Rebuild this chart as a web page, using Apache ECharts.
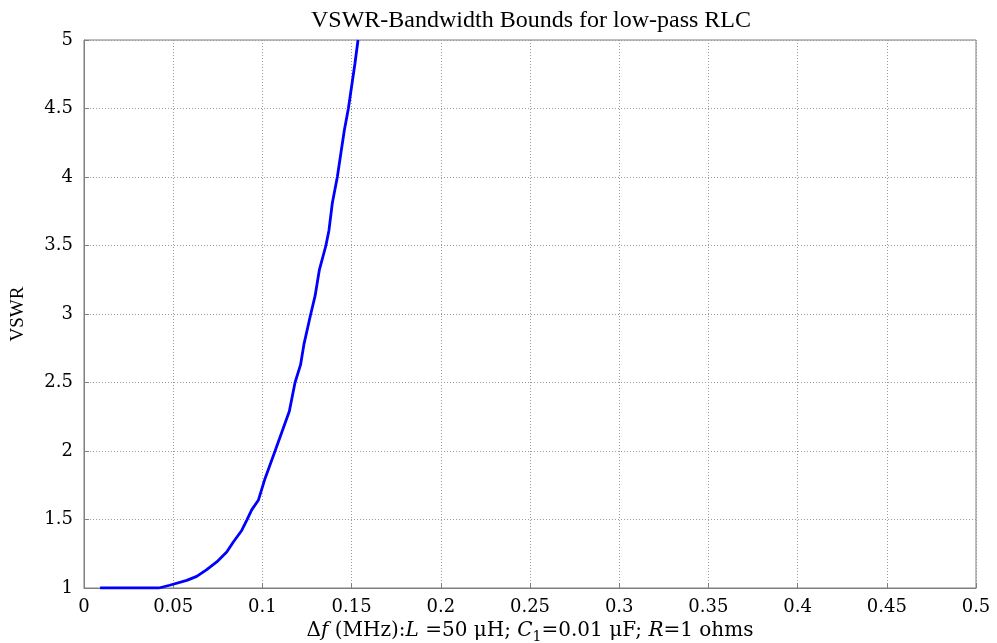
<!DOCTYPE html>
<html>
<head>
<meta charset="utf-8">
<title>VSWR-Bandwidth Bounds</title>
<script src="https://cdn.jsdelivr.net/npm/echarts@6/dist/echarts.min.js"></script>
<style>
  html, body { margin: 0; padding: 0; background: #fff; }
  #chart01 { width: 997px; height: 643px; }
</style>
</head>
<body>
<div id="chart01"></div>
<script>
// frequency offset (MHz) and VSWR bound
var deltaF = [0.009, 0.042, 0.048, 0.0576, 0.0632, 0.0688, 0.0744, 0.080, 0.0837, 0.0884,
              0.0912, 0.094, 0.0977, 0.1015, 0.1071, 0.1151, 0.1183, 0.1214, 0.1233, 0.1271,
              0.1295, 0.1319, 0.1356, 0.1373, 0.1392, 0.142, 0.1459, 0.1482, 0.1519, 0.1536];
var vswr = [1.0, 1.0, 1.02, 1.056, 1.085, 1.134, 1.19, 1.263, 1.336, 1.42,
            1.494, 1.57, 1.64, 1.80, 2.0, 2.29, 2.5, 2.63, 2.78, 3.0,
            3.13, 3.32, 3.5, 3.61, 3.81, 4.0, 4.34, 4.5, 4.83, 5.0];

var xTicks = [0, 0.05, 0.1, 0.15, 0.2, 0.25, 0.3, 0.35, 0.4, 0.45, 0.5];
var yTicks = [1, 1.5, 2, 2.5, 3, 3.5, 4, 4.5, 5];

var serif = 'Liberation Serif';
var wide = 'DejaVu Serif';

var pts = deltaF.map(function (x, i) { return [x, vswr[i]]; });

var myChart = echarts.init(document.getElementById('chart01'));

var option = {
        backgroundColor: '#fff',
        animation: false,
        title: {
                text: 'VSWR-Bandwidth Bounds for low-pass RLC',
                left: 526,
                textAlign: 'center',
                top: 4,
                textStyle: { fontFamily: serif, fontSize: 24, fontWeight: 'normal', color: '#000' }
        },
        grid: {
                left: 84, right: 21, top: 40, bottom: 55,
                containLabel: false,
                outerBoundsMode: 'none',
                show: true, borderColor: '#7f7f7f', borderWidth: 1, backgroundColor: '#fff'
        },
        xAxis: {
                type: 'value',
                min: xTicks[0], max: xTicks[xTicks.length - 1], interval: 0.05,
                name: '{d|Δ}{i|f}{n| (MHz):}{i|L}{n| =50 μH; }{i|C}{s|1}{n|=0.01 μF; }{i|R}{n|=1 ohms}',
                nameLocation: 'middle',
                nameGap: 30,
                nameTextStyle: {
                        color: '#000',
                        rich: {
                                d: { fontFamily: wide, fontSize: 20, color: '#000' },
                                n: { fontFamily: wide, fontSize: 20, color: '#000' },
                                i: { fontFamily: wide, fontSize: 20, fontStyle: 'italic', color: '#000' },
                                s: { fontFamily: wide, fontSize: 14, color: '#000', padding: [12, 0, 0, 0] }
                        }
                },
                axisLine: { show: true, lineStyle: { color: '#7f7f7f', width: 1 } },
                axisTick: { show: true, inside: true, length: 5, lineStyle: { color: '#7f7f7f' } },
                axisLabel: {
                        margin: 10, color: '#000', fontFamily: wide, fontSize: 18,
                        formatter: function (v) { return String(parseFloat(v.toFixed(2))); }
                },
                splitLine: { show: true, lineStyle: { color: '#9a9a9a', type: [1, 2], width: 1 } }
        },
        yAxis: {
                type: 'value',
                min: yTicks[0], max: yTicks[yTicks.length - 1], interval: 0.5,
                name: 'VSWR',
                nameLocation: 'middle',
                nameGap: 56,
                nameRotate: 90,
                nameTextStyle: { fontFamily: serif, fontSize: 19, color: '#000' },
                axisLine: { show: true, lineStyle: { color: '#7f7f7f', width: 1 } },
                axisTick: { show: true, inside: true, length: 5, lineStyle: { color: '#7f7f7f' } },
                axisLabel: {
                        margin: 11, color: '#000', fontFamily: wide, fontSize: 18,
                        formatter: function (v) { return String(parseFloat(v.toFixed(1))); }
                },
                splitLine: { show: true, lineStyle: { color: '#9a9a9a', type: [1, 2], width: 1 } }
        },
        series: [
                {
                        name: 'VSWR',
                        type: 'line',
                        data: pts,
                        showSymbol: false,
                        clip: true,
                        lineStyle: { color: '#0000ff', width: 2.8 }
                }
        ]
};
myChart.setOption(option);
</script>
</body>
</html>
